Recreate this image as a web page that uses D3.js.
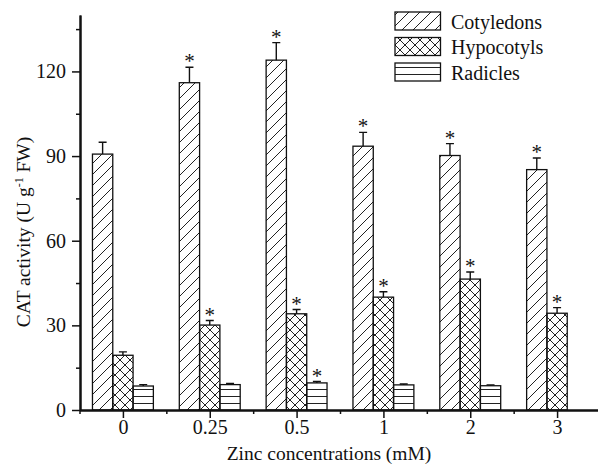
<!DOCTYPE html>
<html lang="en">
<head>
    <meta charset="UTF-8">
    <title>CAT activity</title>
    <script src="https://d3js.org/d3.v7.min.js"></script>
    <style>
        html, body {
            margin: 0;
            background: #fff;
        }
        text {
            font-family: "Liberation Serif", "Times New Roman", serif;
            fill: #111;
        }
    </style>
</head>
<body>
<script>

    var categories = ["0", "0.25", "0.5", "1", "2", "3"];
    var seriesNames = ["Cotyledons", "Hypocotyls", "Radicles"];

    var cotyledons = [90.7, 116, 124, 93.5, 90.2, 85.2];
    var cotyledonsErr = [4.2, 5.5, 6.2, 4.9, 4.2, 4.1];
    var cotyledonsStar = [false, true, true, true, true, true];

    var hypocotyls = [19.4, 30.1, 34.1, 40, 46.4, 34.3];
    var hypocotylsErr = [1.2, 1.6, 1.5, 1.9, 2.5, 2.0];
    var hypocotylsStar = [false, true, true, true, true, true];

    var radicles = [8.5, 9.0, 9.6, 8.9, 8.6, null];
    var radiclesErr = [0.5, 0.4, 0.5, 0.3, 0.3, null];
    var radiclesStar = [false, false, true, false, false, false];

    var yMajor = [0, 30, 60, 90, 120];
    var yMinor = [15, 45, 75, 105, 135];

    var width = 598, height = 472;
    var barW = 20.3;

    var svg = d3.select('body').append('svg')
        .attr('width', width).attr('height', height);

    var x = d3.scaleLinear().domain([-0.5, 5.5]).range([79.5, 600.5]);
    var y = d3.scaleLinear().domain([0, 140]).range([410, 15]);

    // hatch patterns
    var defs = svg.append('defs');
    defs.append('pattern').attr('id', 'p-cot')
        .attr('patternUnits', 'userSpaceOnUse')
        .attr('width', 11).attr('height', 11)
        .attr('y', 410)
        .append('path')
        .attr('d', 'M0,11L11,0M-2,2L2,-2M9,13L13,9')
        .attr('stroke', '#222').attr('stroke-width', 1).attr('fill', 'none');
    var hp = defs.append('pattern').attr('id', 'p-hyp')
        .attr('patternUnits', 'userSpaceOnUse')
        .attr('width', 10).attr('height', 10)
        .attr('y', 410);
    hp.append('path')
        .attr('d', 'M0,10L10,0M-2,2L2,-2M8,12L12,8M0,0L10,10M-2,8L2,12M8,-2L12,2')
        .attr('stroke', '#222').attr('stroke-width', 1).attr('fill', 'none');
    defs.append('pattern').attr('id', 'p-rad')
        .attr('patternUnits', 'userSpaceOnUse')
        .attr('width', 10).attr('height', 7)
        .attr('y', 410)
        .append('path')
        .attr('d', 'M-1,0.5L11,0.5')
        .attr('stroke', '#222').attr('stroke-width', 1).attr('fill', 'none');

    var series = [
        {values: cotyledons, err: cotyledonsErr, star: cotyledonsStar, fill: 'url(#p-cot)', off: -1},
        {values: hypocotyls, err: hypocotylsErr, star: hypocotylsStar, fill: 'url(#p-hyp)', off: 0},
        {values: radicles, err: radiclesErr, star: radiclesStar, fill: 'url(#p-rad)', off: 1}
    ];

    var plot = svg.append('g');

    series.forEach(function (s) {
        var items = categories.map(function (c, i) {
            return {i: i, v: s.values[i], e: s.err[i], star: s.star[i]};
        }).filter(function (d) { return d.v != null; });

        var g = plot.append('g');
        function cx(d) { return x(d.i) + s.off * barW; }

        // error bars (upper only)
        g.selectAll('.err').data(items).enter().append('path')
            .attr('d', function (d) {
                var xc = cx(d);
                return 'M' + xc + ',' + y(d.v) + 'V' + y(d.v + d.e) +
                    'M' + (xc - 4) + ',' + y(d.v + d.e) + 'H' + (xc + 4);
            })
            .attr('stroke', '#111').attr('stroke-width', 1.4).attr('fill', 'none');

        g.selectAll('rect').data(items).enter().append('rect')
            .attr('x', function (d) { return cx(d) - barW / 2; })
            .attr('y', function (d) { return y(d.v); })
            .attr('width', barW)
            .attr('height', function (d) { return y(0) - y(d.v); })
            .attr('fill', s.fill)
            .attr('stroke', '#111').attr('stroke-width', 1.3);

        g.selectAll('.star').data(items.filter(function (d) { return d.star; }))
            .enter().append('text')
            .attr('x', cx)
            .attr('y', function (d) { return y(d.v + d.e) + 1; })
            .attr('text-anchor', 'middle')
            .style('font-size', '21px')
            .text('*');
    });

    // axes
    var xAxis = d3.axisBottom(x)
        .tickValues(d3.range(categories.length))
        .tickFormat(function (d) { return categories[d]; })
        .tickSize(8).tickSizeOuter(0).tickPadding(2);
    var xMinor = d3.axisBottom(x)
        .tickValues(d3.range(-0.5, 6, 1))
        .tickFormat('').tickSize(4).tickSizeOuter(0);
    var yAxis = d3.axisLeft(y)
        .tickValues(yMajor).tickSize(8).tickSizeOuter(0).tickPadding(6);
    var yMinorAxis = d3.axisLeft(y)
        .tickValues(yMinor).tickFormat('').tickSize(4).tickSizeOuter(0);

    function styleAxis(sel) {
        sel.select('.domain').attr('stroke', '#111').attr('stroke-width', 2);
        sel.selectAll('.tick line').attr('stroke', '#111').attr('stroke-width', 1.5);
        sel.selectAll('text').style('font-size', '20px')
            .style('font-family', '"Liberation Serif", serif').attr('fill', '#111');
        sel.attr('font-family', null).attr('font-size', null);
    }

    svg.append('g').attr('transform', 'translate(0,410)').call(xMinor).call(styleAxis);
    svg.append('g').attr('transform', 'translate(0,410)').call(xAxis).call(styleAxis);
    svg.append('g').attr('transform', 'translate(80,0)').call(yMinorAxis).call(styleAxis);
    svg.append('g').attr('transform', 'translate(80,0)').call(yAxis).call(styleAxis);

    // axis titles
    svg.append('text')
        .attr('x', 329).attr('y', 460)
        .attr('text-anchor', 'middle')
        .style('font-size', '19.5px')
        .text('Zinc concentrations (mM)');

    var yt = svg.append('text')
        .attr('transform', 'translate(30,232) rotate(-90)')
        .attr('text-anchor', 'middle')
        .style('font-size', '19.5px');
    yt.append('tspan').text('CAT activity (U g');
    yt.append('tspan').attr('dy', -7).style('font-size', '12px').text('-1');
    yt.append('tspan').attr('dy', 7).text(' FW)');

    // legend
    var legend = svg.append('g');
    var fills = ['url(#p-cot)', 'url(#p-hyp)', 'url(#p-rad)'];
    seriesNames.forEach(function (name, i) {
        var ly = 12 + i * 25.5;
        legend.append('rect')
            .attr('x', 395).attr('y', ly)
            .attr('width', 45.5).attr('height', 18)
            .attr('fill', fills[i])
            .attr('stroke', '#111').attr('stroke-width', 1.3);
        legend.append('text')
            .attr('x', 451).attr('y', ly + 16.5)
            .style('font-size', '20px')
            .text(name);
    });

</script>
</body>
</html>
